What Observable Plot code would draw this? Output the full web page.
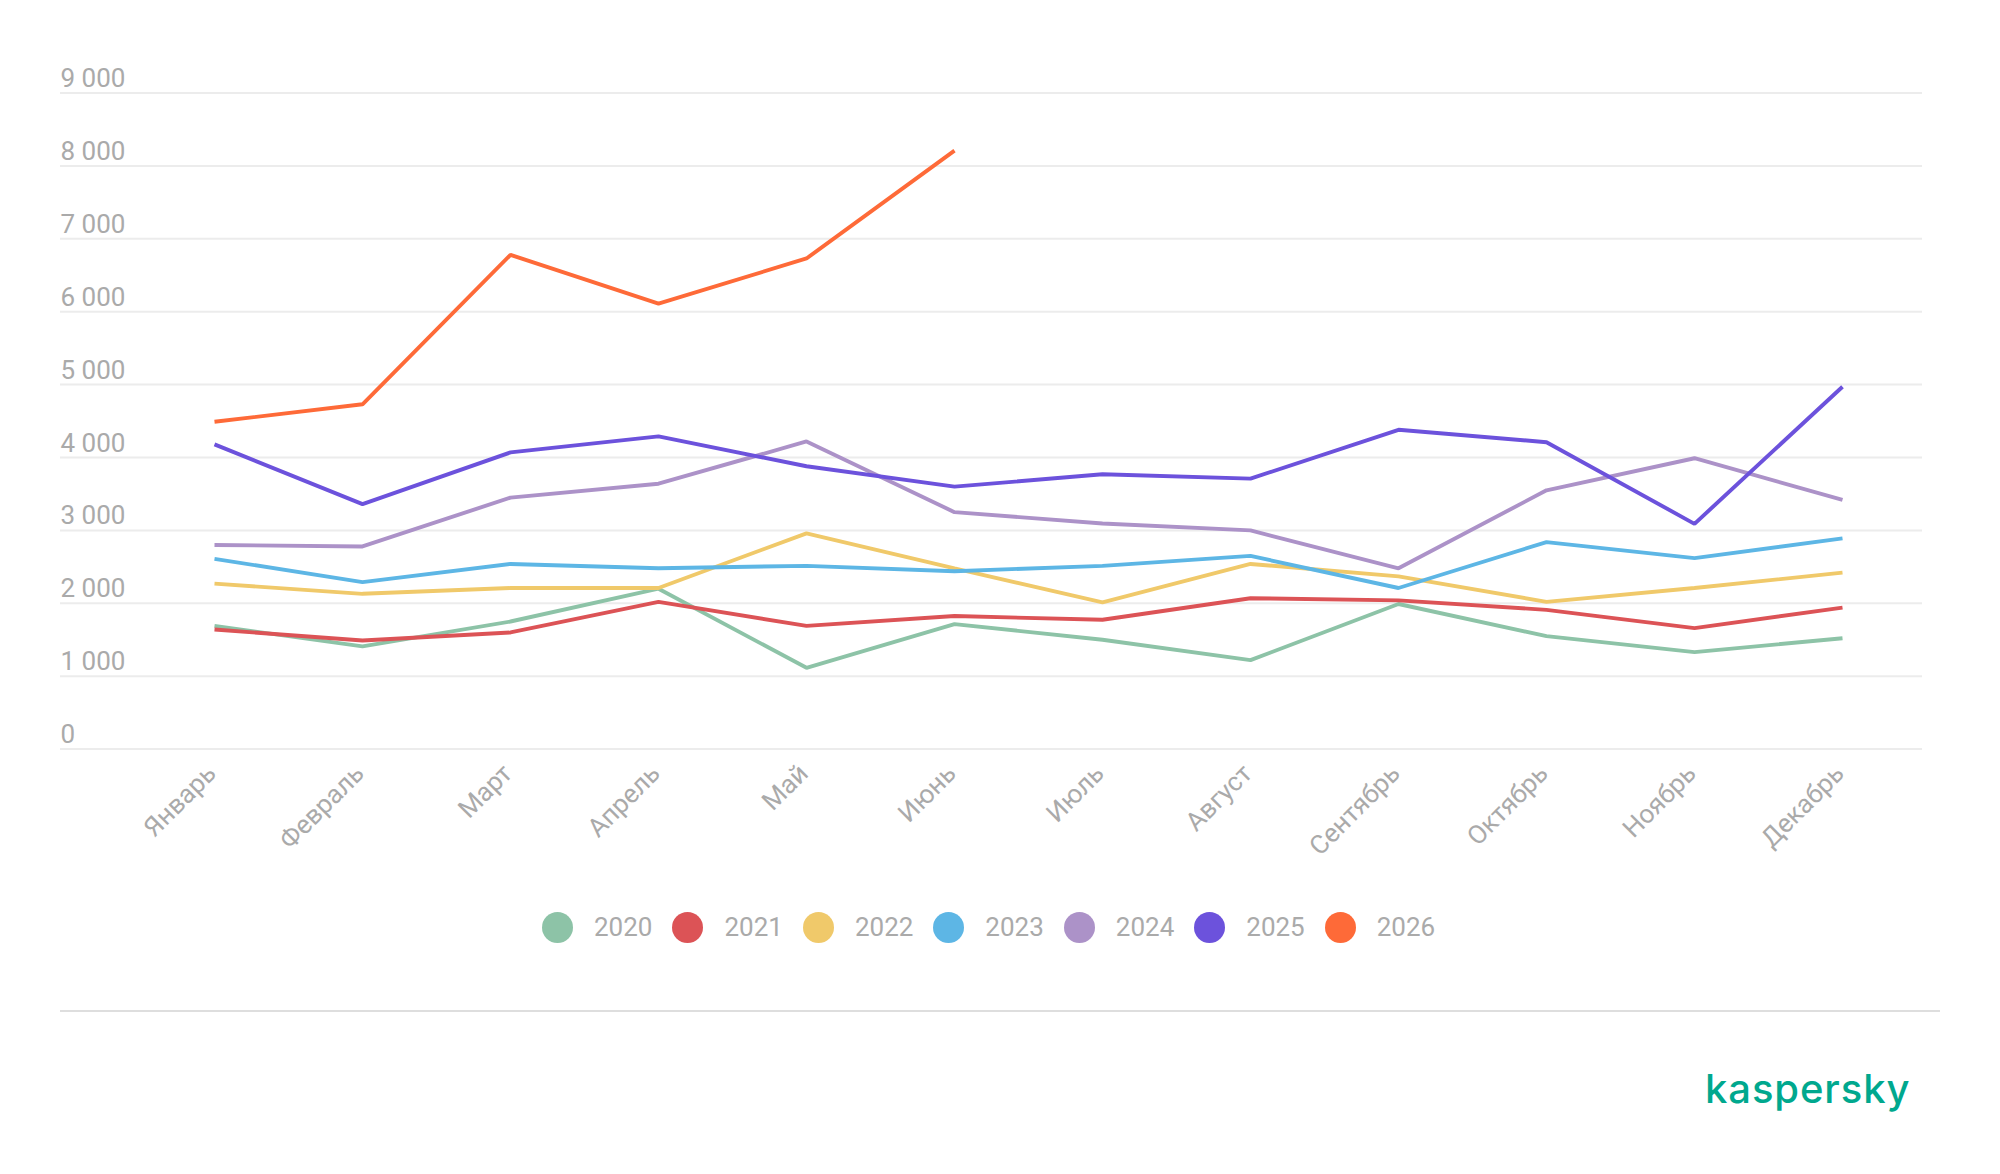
<!DOCTYPE html>
<html><head><meta charset="utf-8">
<script src="https://cdn.jsdelivr.net/npm/d3@7"></script>
<script src="https://cdn.jsdelivr.net/npm/@observablehq/plot@0.6"></script>
<style>
body{margin:0;background:#fff;font-family:Roboto,sans-serif}
#wrap{position:relative;width:2000px;height:1174px;overflow:hidden;background:#fff}
#chart{position:absolute;left:0;top:0}
#legend{position:absolute;top:912px;left:542px;display:flex;align-items:center;height:31px}
.item{display:flex;align-items:center;margin-right:20px}
.sw{width:31px;height:31px;border-radius:50%;margin-right:21px}
.lab{font-size:26px;color:#aaaaaa;line-height:31px;font-family:Roboto}
#sep{position:absolute;left:60px;top:1010px;width:1880px;height:2px;background:#dedede}
#logo{position:absolute;left:0;top:0}
</style></head>
<body>
<div id="wrap">
  <div id="chart"></div>
  <div id="legend"></div>
  <div id="sep"></div>
  <svg id="logo" width="2000" height="1174"><text x="1705" y="1103" font-family="Inter" font-weight="500" font-size="40" letter-spacing="0.9" fill="#00a88e">kaspersky</text></svg>
</div>
<script>
const months = ["Январь","Февраль","Март","Апрель","Май","Июнь","Июль","Август","Сентябрь","Октябрь","Ноябрь","Декабрь"];
const years = ["2020","2021","2022","2023","2024","2025","2026"];
const colors = ["#8dc3a7","#dc5356","#f0c96a","#5db6e5","#ac92c8","#6c52dc","#fe6a38"];
const v2020 = [1690,1410,1750,2200,1115,1715,1500,1220,1990,1550,1330,1520];
const v2021 = [1640,1490,1600,2020,1690,1825,1774,2070,2040,1910,1660,1940];
const v2022 = [2270,2130,2210,2210,2960,2478,2014,2540,2370,2020,2210,2420];
const v2023 = [2610,2290,2540,2480,2514,2440,2514,2650,2210,2840,2620,2890];
const v2024 = [2800,2780,3450,3640,4220,3250,3095,3000,2480,3550,3990,3420];
const v2025 = [4180,3360,4070,4290,3880,3600,3770,3710,4380,4210,3090,4970];
const v2026 = [4490,4730,6780,6110,6730,8210];
const yTicks = [0,1000,2000,3000,4000,5000,6000,7000,8000,9000];
const yTickLabels = ["0","1 000","2 000","3 000","4 000","5 000","6 000","7 000","8 000","9 000"];

const series = [v2020,v2021,v2022,v2023,v2024,v2025,v2026];
const table = [];
series.forEach((vals, si) => vals.forEach((v, i) => table.push({year: years[si], month: months[i], value: v})));

const H = 880;
const chart = Plot.plot({
  width: 2000,
  height: H,
  marginTop: 92.5,
  marginBottom: H - 748.6,
  marginLeft: 60,
  marginRight: 78,
  style: {fontFamily: "Roboto", background: "transparent"},
  x: {type: "point", domain: months, range: [210.5, 1846], padding: 0, axis: null},
  y: {domain: [0, 9000], nice: false, axis: null},
  color: {domain: years, range: colors},
  marks: [
    Plot.ruleY(yTicks, {stroke: "#ececec", strokeWidth: 2}),
    Plot.text(yTicks, {y: d => d, text: (d, i) => yTickLabels[i], frameAnchor: "left", textAnchor: "start", lineAnchor: "bottom", dy: -6, fontSize: 26, fill: "#aaaaaa"}),
    Plot.text(months, {x: d => d, text: d => d, frameAnchor: "bottom", rotate: -45, textAnchor: "end", lineAnchor: "bottom", dx: 3, dy: 26, fontSize: 26, fill: "#aaaaaa"}),
    Plot.line(table, {x: "month", y: "value", z: "year", stroke: "year", strokeWidth: 3.9, strokeLinecap: "butt", strokeLinejoin: "miter"})
  ]
});
document.getElementById("chart").appendChild(chart);

const legend = document.getElementById("legend");
years.forEach((y, i) => {
  const it = document.createElement("div"); it.className = "item";
  const sw = document.createElement("div"); sw.className = "sw"; sw.style.background = colors[i];
  const lb = document.createElement("div"); lb.className = "lab"; lb.textContent = y;
  it.appendChild(sw); it.appendChild(lb); legend.appendChild(it);
});
</script>
</body></html>
